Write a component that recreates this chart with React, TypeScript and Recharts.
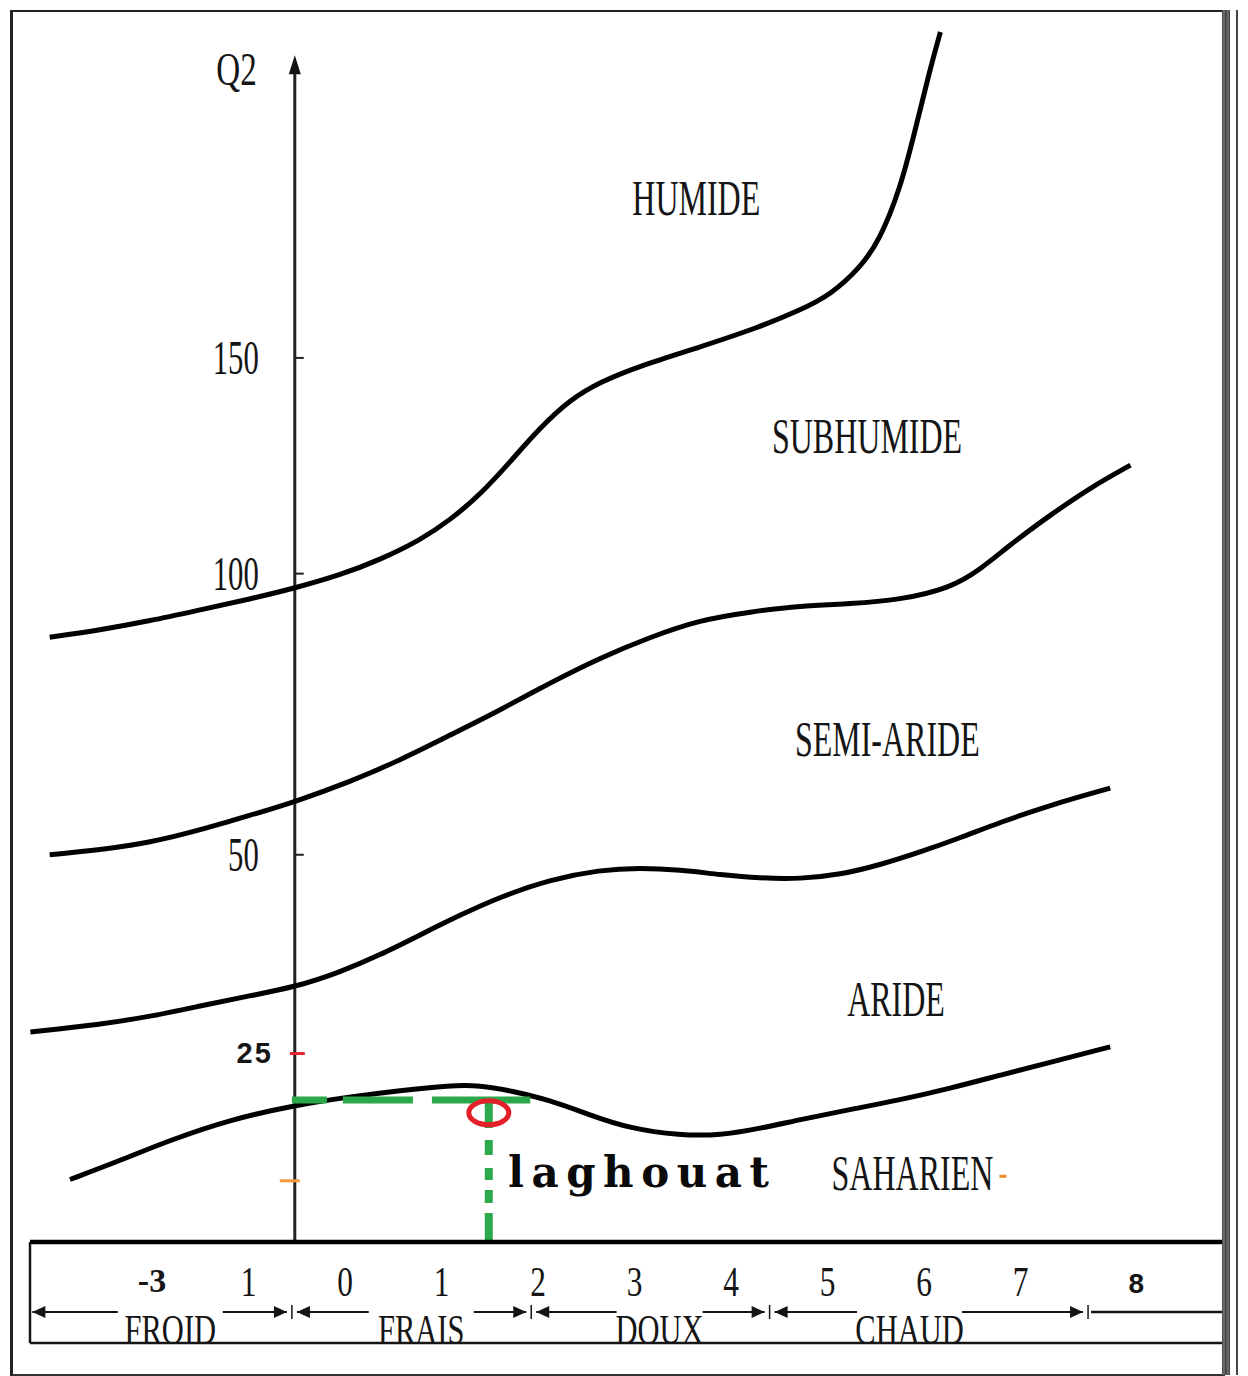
import React from "react";
import { LineChart, Line, XAxis, YAxis, ReferenceLine, ReferenceDot, ReferenceArea } from "recharts";

// bottom scale: m (°C)
const M_TICKS = [-2, -1, 0, 1, 2, 3, 4, 5, 6, 7, 8.2];
const M_TICK_LABELS = ["-3", "1", "0", "1", "2", "3", "4", "5", "6", "7", "8"];
const M_DOMAIN = [-3.264, 9.088];

// Q2 scale
const Q2_TICKS = [150, 100, 50];
const Q2_MARK_RED = 25;
const Q2_MARK_ORANGE = 13.5;
const Q2_DOMAIN = [9.22, 247];
const Q2_AXIS_M = -0.52;
const Q2_AXIS_TOP = 233;

// stage limits
const humideM = [-3.06, -2.54, -2.02, -1.5, -0.98, -0.52, -0.05, 0.36, 0.78, 1.09, 1.4, 1.71, 2.02, 2.33, 2.64, 3.06, 3.68, 4.3, 4.72, 5.03, 5.34, 5.54, 5.75, 5.91, 6.06, 6.17];
const humideQ2 = [87.2, 88.6, 90.4, 92.6, 94.8, 97.0, 99.7, 102.9, 107.1, 111.5, 117.1, 124.6, 132.7, 139.5, 143.9, 148.0, 152.8, 158.0, 162.5, 166.5, 173.9, 181.6, 195.9, 213.9, 232.5, 244.7];

const subhumideM = [-3.06, -2.54, -2.02, -1.5, -0.98, -0.52, 0.05, 0.57, 1.09, 1.61, 2.12, 2.64, 3.16, 3.68, 4.2, 4.72, 5.23, 5.75, 6.27, 6.58, 6.89, 7.31, 7.72, 8.14];
const subhumideQ2 = [50.0, 50.7, 51.8, 53.7, 56.0, 58.1, 61.3, 64.9, 69.2, 73.6, 78.5, 83.2, 87.2, 90.6, 92.2, 93.4, 93.8, 94.6, 97.0, 100.8, 106.1, 112.6, 118.7, 123.9];

const semiarideM = [-3.26, -2.54, -2.02, -1.5, -0.98, -0.52, -0.05, 0.36, 0.78, 1.19, 1.61, 2.12, 2.64, 3.06, 3.47, 3.89, 4.3, 4.72, 5.13, 5.54, 5.96, 6.37, 6.79, 7.31, 7.93];
const semiarideQ2 = [27.3, 28.1, 29.0, 30.2, 31.4, 32.4, 34.2, 36.3, 38.9, 41.5, 44.0, 46.4, 47.8, 48.1, 47.8, 47.1, 46.6, 46.5, 47.1, 48.5, 50.4, 52.5, 54.9, 57.6, 60.3];

const arideM = [-2.85, -2.33, -1.81, -1.19, -0.52, 0.05, 0.57, 1.09, 1.4, 1.71, 2.12, 2.54, 2.95, 3.47, 3.89, 4.3, 4.72, 5.23, 5.75, 6.27, 6.79, 7.31, 7.93];
const arideQ2 = [13.6, 15.1, 16.8, 18.6, 19.9, 20.7, 21.3, 21.8, 21.8, 21.3, 20.4, 19.0, 17.8, 17.2, 17.2, 17.8, 18.6, 19.5, 20.4, 21.5, 22.8, 24.1, 25.7];

// thermal zones
const ZONE_BOUNDS = [-3.25, -0.55, 1.93, 4.4, 7.7];
const ZONE_NAMES = ["FROID", "FRAIS", "DOUX", "CHAUD"];
const ZONE_LABEL_M = [-1.81, 0.79, 3.26, 5.85];

// stage names
const STAGE_NAMES = ["HUMIDE", "SUBHUMIDE", "SEMI-ARIDE", "ARIDE", "SAHARIEN"];
const STAGE_M = [3.64, 5.41, 5.62, 5.71, 5.88];
const STAGE_Q2 = [193.3, 130.5, 68.3, 30.9, 14.0];

// station
const STATION = "laghouat";
const STATION_M = 1.49;
const STATION_Q2 = 19.3;
const GUIDE_Q2 = 20.4;
const GUIDE_FROM_M = -0.55;
const GUIDE_TO_M = 1.92;
const STATION_LABEL_M = 1.69;
const STATION_LABEL_Q2 = 14.2;

const pts = (ms: number[], qs: number[]) => ms.map((m, i) => ({ m, q2: qs[i] }));
const limits = [pts(humideM, humideQ2), pts(subhumideM, subhumideQ2), pts(semiarideM, semiarideQ2), pts(arideM, arideQ2)];

const SERIF = '"Liberation Serif", "Times New Roman", serif';
const SANS = '"Liberation Sans", Arial, sans-serif';
const INK = "#151515";
const GREEN = "#2ba84a";

function Cond({ x, y, text, size = 50, anchor = "middle", sx = 0.64, fill = INK }: any) {
  return (
    <text transform={`translate(${x},${y}) scale(${sx},1)`} textAnchor={anchor} fontSize={size} fontFamily={SERIF} fill={fill}>
      {text}
    </text>
  );
}

function MTick({ x, y, index }: any) {
  const label = M_TICK_LABELS[index];
  if (index === 0)
    return <text x={x} y={y + 50} textAnchor="middle" fontFamily={SERIF} fontWeight="bold" fontSize={34} fill={INK}>{label}</text>;
  if (index === M_TICK_LABELS.length - 1)
    return <text x={x} y={y + 51} textAnchor="middle" fontFamily={SANS} fontWeight="bold" fontSize={28} fill={INK}>{label}</text>;
  return <Cond x={x} y={y + 54} size={43} sx={0.73} text={label} />;
}

function ZoneShape({ x, y, width, height, name, first, from, to, at }: any) {
  const bottom = y + height;
  const ay = bottom + 70;
  const x0 = x + (first ? 1 : 5);
  const x1 = x + width - 5;
  const cx = x + (width * (at - from)) / (to - from);
  const tw = name.length * 19 + 10;
  return (
    <g>
      <line x1={x0} x2={x1} y1={ay} y2={ay} stroke={INK} strokeWidth={2} />
      <polygon points={`${x0},${ay} ${x0 + 13},${ay - 6} ${x0 + 13},${ay + 6}`} fill={INK} />
      <polygon points={`${x1},${ay} ${x1 - 13},${ay - 6} ${x1 - 13},${ay + 6}`} fill={INK} />
      <line x1={x + width} x2={x + width} y1={ay - 7} y2={ay + 7} stroke={INK} strokeWidth={1.5} />
      <rect x={cx - tw / 2} y={ay - 3} width={tw} height={6} fill="#fff" />
      <Cond x={cx} y={bottom + 102} size={43} sx={0.71} text={name} />
    </g>
  );
}

function BoxShape({ x, y, width, height }: any) {
  const bottom = y + height;
  return (
    <g>
      <line x1={x} x2={x} y1={bottom} y2={bottom + 101} stroke={INK} strokeWidth={2.5} />
      <line x1={x} x2={x + width} y1={bottom + 101} y2={bottom + 101} stroke={INK} strokeWidth={2.5} />
    </g>
  );
}

function TailShape({ x, y, width, height }: any) {
  const ay = y + height + 70;
  return <line x1={x + 3} x2={x + width} y1={ay} y2={ay} stroke={INK} strokeWidth={2.5} />;
}

export default function App() {
  return (
    <div style={{ position: "relative", width: 1232, height: 1368, background: "#fff" }}>
      <LineChart width={1232} height={1368} margin={{ top: 17, right: 18, bottom: 30, left: 22 }}>
        <XAxis
          dataKey="m"
          type="number"
          domain={M_DOMAIN}
          allowDataOverflow
          ticks={M_TICKS}
          interval={0}
          height={104}
          tickSize={0}
          tickMargin={0}
          tickLine={false}
          axisLine={{ stroke: "#000", strokeWidth: 4.5 }}
          tick={<MTick />}
        />
        <YAxis hide type="number" scale="sqrt" domain={Q2_DOMAIN} allowDataOverflow />

        <ReferenceArea x1={M_DOMAIN[0]} x2={M_DOMAIN[1]} ifOverflow="visible" shape={(p: any) => <BoxShape {...p} />} />
        {ZONE_NAMES.map((name, i) => (
          <ReferenceArea
            key={name}
            x1={ZONE_BOUNDS[i]}
            x2={ZONE_BOUNDS[i + 1]}
            ifOverflow="visible"
            shape={(p: any) => (
              <ZoneShape {...p} name={name} first={i === 0} from={ZONE_BOUNDS[i]} to={ZONE_BOUNDS[i + 1]} at={ZONE_LABEL_M[i]} />
            )}
          />
        ))}
        <ReferenceArea x1={ZONE_BOUNDS[ZONE_BOUNDS.length - 1]} x2={M_DOMAIN[1]} ifOverflow="visible" shape={(p: any) => <TailShape {...p} />} />

        {/* Q2 axis */}
        <ReferenceLine
          segment={[{ x: Q2_AXIS_M, y: Q2_DOMAIN[0] }, { x: Q2_AXIS_M, y: Q2_AXIS_TOP }]}
          stroke="#222"
          strokeWidth={3}
          ifOverflow="visible"
        />
        <ReferenceDot
          x={Q2_AXIS_M}
          y={Q2_AXIS_TOP}
          r={0}
          ifOverflow="visible"
          shape={({ cx, cy }: any) => (
            <g>
              <polygon points={`${cx},${cy - 13} ${cx - 6},${cy + 6} ${cx + 6},${cy + 6}`} fill="#111" />
              <Cond x={cx - 38} y={cy + 17} size={46} sx={0.72} anchor="end" text="Q2" />
            </g>
          )}
        />
        {Q2_TICKS.map((v) => (
          <ReferenceDot
            key={v}
            x={Q2_AXIS_M}
            y={v}
            r={0}
            ifOverflow="visible"
            shape={({ cx, cy }: any) => (
              <g>
                <line x1={cx} x2={cx + 9} y1={cy} y2={cy} stroke="#222" strokeWidth={2} />
                <Cond x={cx - 36} y={cy + 16} size={48} anchor="end" text={String(v)} />
              </g>
            )}
          />
        ))}
        <ReferenceDot
          x={Q2_AXIS_M}
          y={Q2_MARK_RED}
          r={0}
          ifOverflow="visible"
          shape={({ cx, cy }: any) => (
            <g>
              <line x1={cx - 5} x2={cx + 10} y1={cy} y2={cy} stroke="#e3262b" strokeWidth={3} />
              <text x={cx - 22} y={cy + 9} textAnchor="end" fontFamily={SANS} fontWeight="bold" fontSize={29} letterSpacing={2} fill={INK}>
                {String(Q2_MARK_RED)}
              </text>
            </g>
          )}
        />
        <ReferenceDot
          x={Q2_AXIS_M}
          y={Q2_MARK_ORANGE}
          r={0}
          ifOverflow="visible"
          shape={({ cx, cy }: any) => <line x1={cx - 15} x2={cx + 5} y1={cy} y2={cy} stroke="#f39a3b" strokeWidth={3} />}
        />

        {limits.map((d, i) => (
          <Line
            key={i}
            data={d}
            dataKey="q2"
            type="basis"
            stroke="#000"
            strokeWidth={5}
            dot={false}
            isAnimationActive={false}
          />
        ))}

        {STAGE_NAMES.map((name, i) => (
          <ReferenceDot
            key={name}
            x={STAGE_M[i]}
            y={STAGE_Q2[i]}
            r={0}
            ifOverflow="visible"
            shape={({ cx, cy }: any) => (
              <g>
                <Cond x={cx} y={cy + 16} size={50} text={name} />
                {name === "SAHARIEN" && (
                  <line x1={cx + 87} x2={cx + 94} y1={cy + 2} y2={cy + 2} stroke="#f08a24" strokeWidth={3} />
                )}
              </g>
            )}
          />
        ))}

        {/* station */}
        <ReferenceLine
          segment={[{ x: GUIDE_FROM_M, y: GUIDE_Q2 }, { x: GUIDE_TO_M, y: GUIDE_Q2 }]}
          stroke={GREEN}
          strokeWidth={7}
          strokeDasharray="35 16 70 19 200"
          ifOverflow="visible"
        />
        <ReferenceLine
          segment={[{ x: STATION_M, y: GUIDE_Q2 }, { x: STATION_M, y: Q2_DOMAIN[0] }]}
          stroke={GREEN}
          strokeWidth={8}
          strokeDasharray="28 12 15 13 12 10 13 10 40"
          ifOverflow="visible"
        />
        <ReferenceDot
          x={STATION_M}
          y={STATION_Q2}
          r={0}
          ifOverflow="visible"
          shape={({ cx, cy }: any) => <ellipse cx={cx} cy={cy + 1} rx={20} ry={12} fill="none" stroke="#e3202a" strokeWidth={5} />}
        />
        <ReferenceDot
          x={STATION_LABEL_M}
          y={STATION_LABEL_Q2}
          r={0}
          ifOverflow="visible"
          shape={({ cx, cy }: any) => (
            <text x={cx} y={cy + 15} fontFamily='"DejaVu Serif", serif' fontWeight="bold" fontSize={42} letterSpacing={7.5} fill="#0a0a0a">
              {STATION}
            </text>
          )}
        />
      </LineChart>

      {/* page frame */}
      <div style={{ position: "absolute", left: 2, top: 2, width: 1212, height: 1362, borderLeft: "3px solid #222", borderTop: "2px solid #222", borderBottom: "3px solid #333", pointerEvents: "none" }} />
      <div style={{ position: "absolute", left: 1214, top: 2, width: 8, height: 1365, background: "repeating-linear-gradient(90deg, #444 0px, #777 2px, #333 4px)", pointerEvents: "none" }} />
      <div style={{ position: "absolute", left: 1228, top: 2, width: 2, height: 1365, background: "#444", pointerEvents: "none" }} />
    </div>
  );
}
